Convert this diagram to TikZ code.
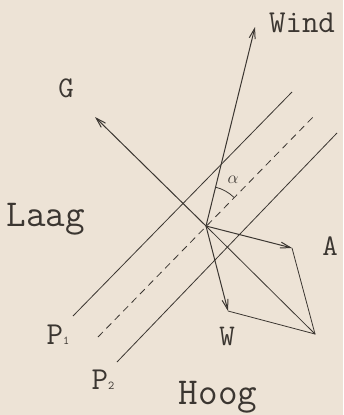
\documentclass[tikz,border=0pt]{standalone}
\usepackage{fontspec}
\usetikzlibrary{arrows.meta}
\definecolor{paper}{HTML}{EDE3D6}
\definecolor{ink}{HTML}{3B3631}
\tikzset{
  vec/.style={-{Straight Barb[length=10pt,width=6pt]}, draw=ink, line width=1pt},
  isobar/.style={draw=ink, line width=0.8pt},
  midline/.style={isobar, dash pattern=on 7pt off 5pt},
  lbl/.style={text=ink, inner sep=0pt, font=\ttfamily\fontsize{30}{30}\selectfont},
  biglbl/.style={lbl, font=\ttfamily\fontsize{38}{38}\selectfont}
}

\begin{document}
\begin{tikzpicture}[x=1pt,y=-1pt]
  \fill[paper] (0,0) rectangle (343,415);
  \useasboundingbox (0,0) rectangle (343,415);
  % origin and vector tips
  \coordinate (O) at (206,226);
  \coordinate (windtip) at (255,27);
  \coordinate (gtip) at (95,117);
  \coordinate (atip) at (292,248);
  \coordinate (wtip) at (228,311);
  \coordinate (R) at (315,334);
  % isobar ends
  \coordinate (p1lo) at (73,316);  \coordinate (p1hi) at (292,92);
  \coordinate (midlo) at (98,337); \coordinate (midhi) at (315,115);
  \coordinate (p2lo) at (117,362); \coordinate (p2hi) at (337,133);
  \draw[isobar] (p1lo) -- (p1hi);
  \draw[midline] (midlo) -- (midhi);
  \draw[isobar] (p2lo) -- (p2hi);
  % vectors
  \draw[vec] (O) -- (windtip);
  \draw[vec] (O) -- (gtip);
  \draw[vec] (O) -- (atip);
  \draw[vec] (O) -- (wtip);
  \draw[isobar] (atip) -- (R) -- (wtip);
  \draw[isobar] (O) -- (R);
  % angle
  \draw[isobar] (O) ++(-76.2:40) arc[start angle=-76.2, end angle=-45.7, radius=40];
  \node[text=ink, font=\fontsize{17}{17}\selectfont] (alpha) at (233,180) {$\alpha$};
  % labels
  \node[lbl, font=\ttfamily\fontsize{32}{32}\selectfont] (windlbl) at (302,23) {Wind};
  \node[lbl] (glbl) at (66,88) {G};
  \node[lbl] (albl) at (330,246) {A};
  \node[lbl] (wlbl) at (227,336) {W};
  \node[biglbl] (laag) at (46,219) {Laag};
  \node[biglbl] (hoog) at (218,397) {Hoog};
  \node[lbl, font=\ttfamily\fontsize{32}{32}\selectfont] (p1) at (58,335) {P{\fontsize{12}{12}\selectfont 1}};
  \node[lbl, font=\ttfamily\fontsize{32}{32}\selectfont] (p2) at (103,380) {P{\fontsize{12}{12}\selectfont 2}};
\end{tikzpicture}
\end{document}
